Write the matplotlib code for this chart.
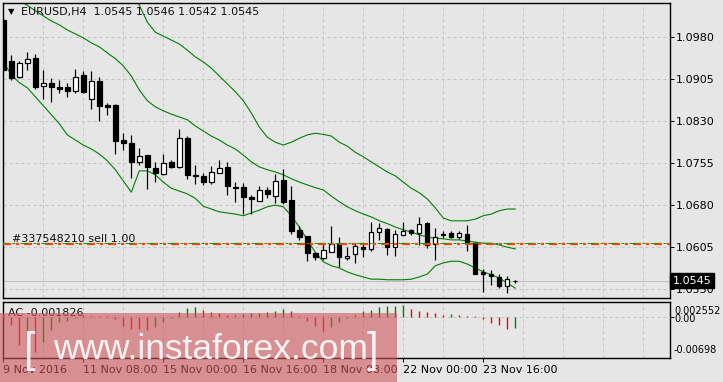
import matplotlib
matplotlib.use("Agg")
import matplotlib.pyplot as plt
from matplotlib.patches import Rectangle
from matplotlib import transforms
import numpy as np

plt.rcParams["font.family"] = ["DejaVu Sans"]
plt.rcParams["lines.scale_dashes"] = False

W, H = 723, 382
BG = "#e6e6e6"
PX = 0.72  # one pixel in points (dpi 100)

SYMBOL = "EURUSD,H4"

# H4 candles, 9 Nov - 24 Nov 2016
opens = [1.1010, 1.0937, 1.0908, 1.0933, 1.0942, 1.0892, 1.0897, 1.0890, 1.0890, 1.0883,
         1.0912, 1.0869, 1.0901, 1.0858, 1.0858, 1.0796, 1.0790, 1.0756, 1.0769, 1.0746,
         1.0735, 1.0756, 1.0747, 1.0799, 1.0734, 1.0732, 1.0722, 1.0738, 1.0748, 1.0713,
         1.0712, 1.0695, 1.0688, 1.0706, 1.0697, 1.0725, 1.0689, 1.0636, 1.0625, 1.0594,
         1.0585, 1.0597, 1.0611, 1.0585, 1.0593, 1.0605, 1.0602, 1.0632, 1.0637, 1.0606,
         1.0627, 1.0635, 1.0631, 1.0648, 1.0610, 1.0626, 1.0630, 1.0624, 1.0628, 1.0612,
         1.0560, 1.0557, 1.0552, 1.0536, 1.0545]
highs = [1.1013, 1.0947, 1.0937, 1.0953, 1.0950, 1.0921, 1.0906, 1.0903, 1.0897, 1.0923,
         1.0919, 1.0918, 1.0909, 1.0862, 1.0860, 1.0808, 1.0805, 1.0782, 1.0769, 1.0757,
         1.0771, 1.0760, 1.0815, 1.0803, 1.0751, 1.0738, 1.0750, 1.0760, 1.0756, 1.0722,
         1.0720, 1.0698, 1.0714, 1.0712, 1.0735, 1.0744, 1.0714, 1.0643, 1.0625, 1.0597,
         1.0612, 1.0642, 1.0624, 1.0606, 1.0613, 1.0612, 1.0650, 1.0648, 1.0639, 1.0636,
         1.0650, 1.0637, 1.0658, 1.0650, 1.0639, 1.0633, 1.0634, 1.0633, 1.0644, 1.0615,
         1.0566, 1.0564, 1.0557, 1.0554, 1.0546]
lows = [1.0917, 1.0903, 1.0906, 1.0921, 1.0886, 1.0869, 1.0863, 1.0880, 1.0873, 1.0880,
        1.0880, 1.0852, 1.0829, 1.0841, 1.0771, 1.0778, 1.0728, 1.0751, 1.0708, 1.0722,
        1.0734, 1.0746, 1.0746, 1.0727, 1.0717, 1.0715, 1.0718, 1.0737, 1.0698, 1.0686,
        1.0664, 1.0665, 1.0688, 1.0692, 1.0683, 1.0682, 1.0629, 1.0618, 1.0581, 1.0583,
        1.0583, 1.0597, 1.0569, 1.0582, 1.0577, 1.0588, 1.0599, 1.0618, 1.0591, 1.0590,
        1.0627, 1.0626, 1.0609, 1.0603, 1.0582, 1.0621, 1.0622, 1.0620, 1.0598, 1.0557,
        1.0526, 1.0538, 1.0532, 1.0524, 1.0542]
closes = [1.0921, 1.0906, 1.0934, 1.0940, 1.0891, 1.0897, 1.0890, 1.0887, 1.0883, 1.0909,
          1.0882, 1.0901, 1.0857, 1.0854, 1.0795, 1.0790, 1.0756, 1.0768, 1.0747, 1.0737,
          1.0755, 1.0748, 1.0799, 1.0734, 1.0732, 1.0722, 1.0739, 1.0746, 1.0714, 1.0711,
          1.0695, 1.0690, 1.0707, 1.0700, 1.0723, 1.0685, 1.0634, 1.0624, 1.0594, 1.0587,
          1.0600, 1.0611, 1.0587, 1.0589, 1.0607, 1.0601, 1.0632, 1.0639, 1.0606, 1.0628,
          1.0634, 1.0630, 1.0646, 1.0609, 1.0624, 1.0628, 1.0624, 1.0631, 1.0612, 1.0557,
          1.0557, 1.0554, 1.0535, 1.0548, 1.0545]

# Bollinger bands (upper band only on screen from bar 16)
bb_upper_start = 16
bb_upper = [1.1061, 1.1036, 1.1006, 1.0988, 1.0981, 1.0974, 1.0967, 1.0956, 1.0944, 1.0935,
            1.0924, 1.0910, 1.0896, 1.0882, 1.0866, 1.0844, 1.0819, 1.0801, 1.0792, 1.0787,
            1.0792, 1.0799, 1.0805, 1.0808, 1.0806, 1.0803, 1.0792, 1.0785, 1.0774, 1.0766,
            1.0757, 1.0748, 1.0739, 1.0732, 1.0721, 1.0710, 1.0702, 1.0691, 1.0675, 1.0657,
            1.0652, 1.0652, 1.0652, 1.0655, 1.0661, 1.0664, 1.0670, 1.0673, 1.0673]
bb_mid = [1.1061, 1.1053, 1.1044, 1.1036, 1.1026, 1.1017, 1.1008, 1.1001, 1.0992, 1.0985,
          1.0978, 1.0969, 1.0962, 1.0951, 1.0941, 1.0928, 1.0910, 1.0885, 1.0866, 1.0855,
          1.0848, 1.0842, 1.0837, 1.0832, 1.0821, 1.0812, 1.0803, 1.0796, 1.0787, 1.0780,
          1.0769, 1.0757, 1.0748, 1.0743, 1.0739, 1.0734, 1.0727, 1.0721, 1.0716, 1.0711,
          1.0707, 1.0696, 1.0686, 1.0677, 1.0670, 1.0664, 1.0659, 1.0652, 1.0647, 1.0641,
          1.0636, 1.0632, 1.0627, 1.0623, 1.0621, 1.0620, 1.0618, 1.0618, 1.0616, 1.0614,
          1.0612, 1.0612, 1.0609, 1.0605, 1.0602]
bb_lower = [1.0935, 1.0912, 1.0898, 1.0889, 1.0873, 1.0857, 1.0841, 1.0825, 1.0805, 1.0796,
            1.0787, 1.0780, 1.0771, 1.0759, 1.0743, 1.0723, 1.0703, 1.0741, 1.0741, 1.0734,
            1.0721, 1.0710, 1.0705, 1.0700, 1.0692, 1.0678, 1.0673, 1.0668, 1.0666, 1.0664,
            1.0661, 1.0666, 1.0671, 1.0677, 1.0680, 1.0677, 1.0661, 1.0641, 1.0618, 1.0596,
            1.0579, 1.0572, 1.0568, 1.0561, 1.0556, 1.0552, 1.0548, 1.0548, 1.0547, 1.0547,
            1.0547, 1.0548, 1.0552, 1.0557, 1.0572, 1.0577, 1.0580, 1.0580, 1.0575, 1.0568,
            1.0561, 1.0556, 1.0550, 1.0541, 1.0532]

# Accelerator Oscillator
ac = [0.0005, -0.0013, -0.0047, -0.0042, -0.0059, -0.0042, -0.0022, -0.0009, -0.0006, -0.0002,
      0.0003, 0.0002, 0.0001, 0.0001, -0.0004, -0.0015, -0.0020, -0.0021, -0.0022, -0.0017,
      -0.0009, -0.0002, 0.0008, 0.0016, 0.0017, 0.0012, 0.0008, 0.0006, 0.0003, 0.0004,
      0.0005, 0.0006, 0.0007, 0.0008, 0.0010, 0.0013, 0.0011, 0.0002, -0.0007, -0.0015,
      -0.0024, -0.0017, -0.0009, -0.0001, 0.0003, 0.0010, 0.0012, 0.0017, 0.0018, 0.0019,
      0.0020, 0.0014, 0.0010, 0.0008, 0.0006, 0.0004, 0.0005, 0.0003, 0.0002, 0.0001,
      -0.0004, -0.0010, -0.0014, -0.0021, -0.001826]
ac_max = 0.002552
ac_min = -0.00698

price_ticks = [1.0530, 1.0605, 1.0680, 1.0755, 1.0830, 1.0905, 1.0980]
price_lim = (1.05145, 1.10400)
date_ticks = [0, 10, 20, 30, 40, 50, 60]
date_labels = ["9 Nov 2016", "11 Nov 08:00", "15 Nov 00:00", "16 Nov 16:00",
               "18 Nov 08:00", "22 Nov 00:00", "23 Nov 16:00"]
order_text = "#337548210 sell 1.00"
order_price = 1.0611
n_slots = 83.34


def fx(x):
    return x / W


def fy(y):
    return 1 - y / H


def grid(ax, xs, ys):
    kw = dict(color="#c4c4c4", lw=PX, linestyle=(0, (3 * PX, 3 * PX)), zorder=0)
    for x in xs:
        ax.axvline(x, **kw)
    for y in ys:
        ax.axhline(y, **kw)


def main():
    fig = plt.figure(figsize=(W / 100, H / 100), dpi=100, facecolor=BG)
    ax = fig.add_axes([fx(3), fy(298), (670 - 3) / W, (298 - 3) / H], facecolor=BG)
    ax2 = fig.add_axes([fx(3), fy(358), (670 - 3) / W, (358 - 302) / H], facecolor=BG)

    idx = np.arange(len(opens))
    o = np.array(opens)
    h = np.array(highs)
    l = np.array(lows)
    c = np.array(closes)

    for a in (ax, ax2):
        a.set_xlim(-0.04, n_slots)
        for s in a.spines.values():
            s.set_linewidth(1.0)
            s.set_color("black")
        grid(a, np.arange(0, 84, 5), [])

    # main price panel
    ax.set_ylim(*price_lim)
    grid(ax, [], price_ticks)
    ax.axhline(closes[-1], color="#bdbdbd", lw=PX, zorder=1)

    ax.plot(np.arange(bb_upper_start, len(opens)), bb_upper, color="#008000", lw=0.8, zorder=2)
    ax.plot(idx, bb_mid, color="#008000", lw=0.8, zorder=2)
    ax.plot(idx, bb_lower, color="#008000", lw=0.8, zorder=2)

    ax.vlines(idx, l, h, color="black", lw=PX * 1.2, zorder=3)
    up = c >= o
    ax.bar(idx, np.abs(c - o), bottom=np.minimum(o, c), width=0.55,
           color=np.where(up, "white", "black"), edgecolor="black",
           linewidth=PX * 1.2, zorder=4)

    dash = (0, (8 * PX, 5 * PX, 3 * PX, 5 * PX))
    ax.axhline(order_price, color="#ff4500", lw=1.6, linestyle=dash, zorder=5)
    shift = transforms.offset_copy(ax.transData, fig=fig, x=0, y=1.0 * PX, units="points")
    ax.plot([-1, 90], [order_price, order_price], color="#2e8b00", lw=0.7,
            linestyle=dash, transform=shift, zorder=5)
    bl = transforms.blended_transform_factory(ax.transAxes, ax.transData)
    ax.text(0.0135, order_price, order_text, transform=bl,
            fontsize=8, va="bottom", ha="left", color="#101010", zorder=6)

    ax.set_xticks([])
    ax.yaxis.tick_right()
    ax.set_yticks(price_ticks)
    ax.set_yticklabels([f"{p:.4f}" for p in price_ticks])
    ax.tick_params(axis="y", length=4 * PX, width=PX, pad=2 * PX, labelsize=8, colors="black")

    ax.text(1.004, closes[-1], f"{closes[-1]:.4f}", transform=bl, fontsize=8, color="white",
            va="center", ha="left", zorder=10, clip_on=False,
            bbox=dict(boxstyle="square,pad=0.22", fc="black", ec="black"))

    fig.text(fx(11), fy(12), "\u25bc", fontsize=6, ha="center", va="center", color="black")
    fig.text(fx(21), fy(12.5),
             f"{SYMBOL}  {opens[-1]:.4f} {highs[-1]:.4f} {lows[-1]:.4f} {closes[-1]:.4f}",
             fontsize=8, va="center", ha="left", color="#101010")

    # AC panel
    ax2.set_ylim(ac_min, ac_max)
    grid(ax2, [], [0])
    acv = np.array(ac)
    prev = np.concatenate([[acv[0] + 1], acv[:-1]])
    cols = np.where(acv > prev, "#008000", "#ff0000")
    ax2.vlines(idx, 0, acv, colors=cols, lw=1.0, zorder=3)

    ax2.yaxis.tick_right()
    ax2.set_yticks([0])
    ax2.set_yticklabels([""])
    ax2.tick_params(axis="y", length=4 * PX, width=PX)
    ax2.set_xticks(date_ticks)
    ax2.set_xticklabels(date_labels, ha="left")
    ax2.tick_params(axis="x", length=4 * PX, width=PX, pad=3 * PX, labelsize=8, colors="black")

    fig.text(fx(674), fy(311.5), f"{ac_max:.6f}", fontsize=7, va="center", ha="left")
    fig.text(fx(674), fy(318.5), "0.00", fontsize=7, va="center", ha="left")
    fig.text(fx(674), fy(350), f"{ac_min:.5f}", fontsize=7, va="center", ha="left")
    fig.text(fx(8), fy(312.5), f"AC {ac[-1]:.6f}", fontsize=8, va="center", ha="left", color="#101010")

    # watermark
    fig.add_artist(Rectangle((0, 0), fx(397), (H - 313) / H, transform=fig.transFigure,
                             fc="#d0555a", ec="none", alpha=0.6, zorder=20))
    wm_font = ["Liberation Sans Narrow", "Liberation Sans", "DejaVu Sans"]
    fig.text(fx(53), fy(359), "www.instaforex.com", family=wm_font, fontsize=25.5,
             color="white", alpha=0.9, ha="left", va="baseline", zorder=21)
    fig.text(fx(24), fy(362), "[", family=wm_font, fontsize=30, color="white",
             alpha=0.9, ha="left", va="baseline", zorder=21)
    fig.text(fx(367), fy(362), "]", family=wm_font, fontsize=30, color="white",
             alpha=0.9, ha="left", va="baseline", zorder=21)

    fig.savefig("out.png", dpi=100, facecolor=BG)


if __name__ == "__main__":
    main()
